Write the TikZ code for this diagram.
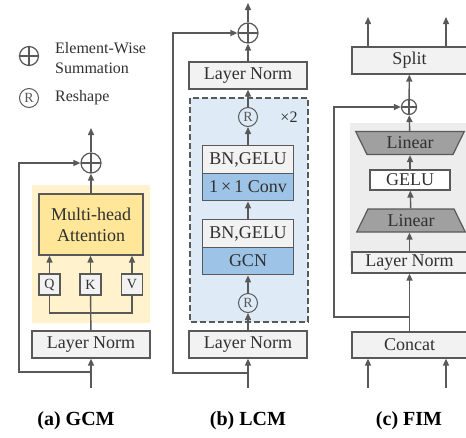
\documentclass[tikz,border=0pt]{standalone}
\usepackage{fontspec}
\setmainfont{Liberation Serif}
\usetikzlibrary{arrows.meta,shapes.geometric,positioning}
\definecolor{linegray}{HTML}{595959}
\definecolor{boxgray}{HTML}{F2F2F2}
\definecolor{attnyellow}{HTML}{FFE699}
\definecolor{bgyellow}{HTML}{FFF2CC}
\definecolor{bgblue}{HTML}{DEEBF7}
\definecolor{convblue}{HTML}{9DC3E6}
\definecolor{bggray}{HTML}{EDEDED}
\definecolor{lineargray}{HTML}{A0A0A0}
\definecolor{txtgray}{HTML}{303030}

\tikzset{
  blk/.style={draw=linegray, line width=1.2pt, fill=boxgray, inner sep=0pt,
    text=txtgray, font=\fontsize{18}{21}\selectfont},
  lin/.style={blk, trapezium, trapezium stretches=true, trapezium left angle=63,
    trapezium right angle=63, minimum width=109pt, minimum height=23pt, fill=lineargray},
  flow/.style={draw=linegray, line width=1.4pt, -{Triangle[width=6pt,length=7pt]}},
  wire/.style={draw=linegray, line width=1.4pt},
  sumnode/.style={circle, draw=linegray, line width=1.2pt, minimum size=#1, inner sep=0pt,
    path picture={\draw[linegray, line width=1.2pt]
      (path picture bounding box.north) -- (path picture bounding box.south)
      (path picture bounding box.west) -- (path picture bounding box.east);}},
  sumnode/.default=20pt,
  rnode/.style={circle, draw=linegray, line width=1pt, minimum size=19pt, inner sep=0pt,
    text=linegray, font=\fontsize{14}{14}\selectfont},
  captxt/.style={font=\fontsize{20}{20}\selectfont\bfseries},
  legtxt/.style={text=txtgray, font=\fontsize{16}{20}\selectfont, align=left, anchor=west, inner sep=0pt}
}

\begin{document}
\begin{tikzpicture}[x=1pt,y=-1pt]
  \useasboundingbox (0,0) rectangle (466,437);

  % legend
  \node[sumnode=19pt] (legSum) at (29,56) {};
  \node[legtxt] (legSumTxt) at (55,58) {Element-Wise\\Summation};
  \node[rnode] (legR) at (29,98) {R};
  \node[legtxt] (legRTxt) at (55,98) {Reshape};

  % (a) GCM
  \fill[bgyellow] (32,185) rectangle (150,323);
  \node[blk, fill=attnyellow, minimum width=104pt, minimum height=61pt, align=center] (mha) at (91,224.5) {Multi-head\\Attention};
  \node[blk, minimum size=21pt, font=\fontsize{14}{14}\selectfont] (q) at (49.5,284.5) {Q};
  \node[blk, minimum size=21pt, font=\fontsize{14}{14}\selectfont] (k) at (90.5,284.5) {K};
  \node[blk, minimum size=21pt, font=\fontsize{14}{14}\selectfont] (v) at (132,284.5) {V};
  \node[blk, minimum width=118pt, minimum height=27pt] (lnA) at (91,344.5) {Layer Norm};
  \node[sumnode] (sumA) at (91,163) {};
  \coordinate (inA) at (91,388);
  \coordinate (skA) at (91,372);
  \coordinate (joinA) at (91,313);
  \coordinate (outA) at (91,128);

  \draw[flow] (inA) -- (lnA);
  \draw[wire] (lnA) -- (k);
  \draw[wire] (q.south) |- (joinA) -| (v.south);
  \draw[flow] (q) -- (q |- mha.south);
  \draw[flow] (k) -- (k |- mha.south);
  \draw[flow] (v) -- (v |- mha.south);
  \draw[flow] (mha) -- (sumA);
  \draw[flow] (sumA) -- (outA);
  \draw[flow] (skA) -- ++(-72,0) |- (sumA);
  \node[captxt] (capA) at (76,421) {(a) GCM};

  % (b) LCM
  \filldraw[fill=bgblue, draw=linegray, line width=1.2pt, dash pattern=on 6pt off 3pt] (190,98) rectangle (308,322);
  \node[blk, minimum width=118pt, minimum height=27pt] (lnB1) at (248,75.5) {Layer Norm};
  \node[blk, minimum width=118pt, minimum height=27pt] (lnB2) at (248,344.5) {Layer Norm};
  \node[rnode] (rB1) at (248,117) {R};
  \node[rnode] (rB2) at (248,303) {R};
  \node[text=txtgray, font=\fontsize{16}{16}\selectfont] (rep) at (289,117) {×2};
  \node[blk, minimum width=91pt, minimum height=27.5pt] (bnB1) at (248,159.5) {BN,GELU};
  \node[blk, fill=convblue, minimum width=91pt, minimum height=27.5pt] (convB) at (248,187) {1\,×\,1 Conv};
  \node[blk, minimum width=91pt, minimum height=27.5pt] (bnB2) at (248,233.5) {BN,GELU};
  \node[blk, fill=convblue, minimum width=91pt, minimum height=27.5pt] (gcnB) at (248,261) {GCN};
  \node[sumnode] (sumB) at (248,33) {};
  \coordinate (inB) at (248,388);
  \coordinate (skB) at (248,373);
  \coordinate (outB) at (248,3);

  \draw[flow] (inB) -- (lnB2);
  \draw[flow] (lnB2) -- (rB2);
  \draw[flow] (rB2) -- (gcnB);
  \draw[flow] (bnB2) -- (convB);
  \draw[flow] (bnB1) -- (rB1);
  \draw[flow] (rB1) -- (lnB1);
  \draw[flow] (lnB1) -- (sumB);
  \draw[flow] (sumB) -- (outB);
  \draw[flow] (skB) -- ++(-75,0) |- (sumB);
  \node[captxt] (capB) at (248,421) {(b) LCM};

  % (c) FIM
  \fill[bggray] (350,123) rectangle (466,267);
  \node[blk, minimum width=115pt, minimum height=27pt] (split) at (409.5,60.5) {Split};
  \node[sumnode=15pt] (sumC) at (409,107) {};
  \node[lin, shape border rotate=180] (linT) at (410,143) {Linear};
  \node[blk, fill=white, minimum width=80pt, minimum height=20pt] (geluC) at (410,180) {GELU};
  \node[lin] (linB) at (411,220.5) {Linear};
  \node[blk, minimum width=115pt, minimum height=21pt] (lnC) at (409.5,262.5) {Layer Norm};
  \node[blk, minimum width=115pt, minimum height=26pt] (concatC) at (409.5,345) {Concat};
  \coordinate (outC1) at (368,17);
  \coordinate (outC2) at (446,17);
  \coordinate (inC1) at (368,388);
  \coordinate (inC2) at (446,388);
  \coordinate (skC) at (409,317);

  \draw[flow] (inC1) -- (inC1 |- concatC.south);
  \draw[flow] (inC2) -- (inC2 |- concatC.south);
  \draw[flow] (concatC) -- (lnC);
  \draw[flow] (lnC) -- (lnC |- linB.south);
  \draw[flow] (linB) -- (geluC);
  \draw[flow] (geluC) -- (linT);
  \draw[flow] (linT) -- (sumC);
  \draw[flow] (sumC) -- (split);
  \draw[flow] (outC1 |- split.north) -- (outC1);
  \draw[flow] (outC2 |- split.north) -- (outC2);
  \draw[flow] (skC) -- ++(-75,0) |- (sumC);
  \node[captxt] (capC) at (409,421) {(c) FIM};
\end{tikzpicture}
\end{document}
